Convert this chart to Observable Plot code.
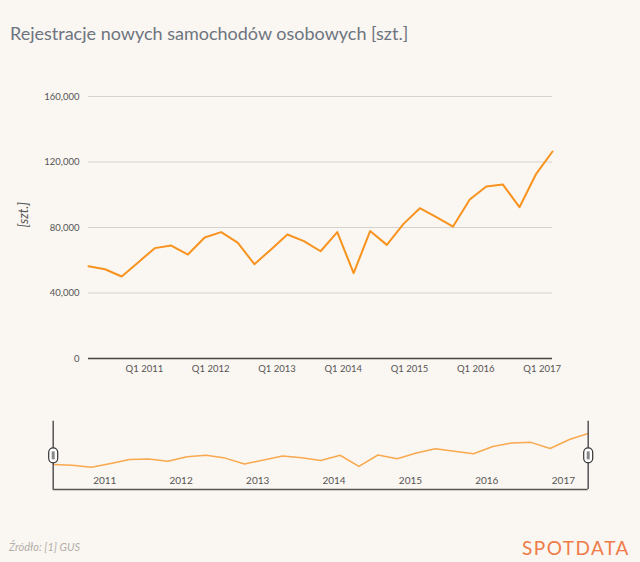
<!DOCTYPE html>
<html>
<head>
<meta charset="utf-8">
<script src="https://cdn.jsdelivr.net/npm/d3@7"></script>
<script src="https://cdn.jsdelivr.net/npm/@observablehq/plot@0.6"></script>
<style>
  body { margin: 0; background: #faf6f1; font-family: Lato, sans-serif; }
  #wrap { position: relative; width: 640px; height: 562px; overflow: hidden; }
  #wrap svg { display: block; }
  .title { position: absolute; left: 10px; top: 22px; font-size: 18px; color: #6d7480; }
  .source { position: absolute; left: 9px; top: 540px; font-size: 11px; font-style: italic; color: #b3aea9; }
  .logo { position: absolute; left: 522px; top: 536px; font-size: 19px; letter-spacing: 1.5px; color: #ef7c48; font-weight: 400; }
</style>
</head>
<body>
<div id="wrap">
  <div id="chart"></div>
  <div id="mini"></div>
  <div class="title">Rejestracje nowych samochodów osobowych [szt.]</div>
  <div class="source">Źródło: [1] GUS</div>
  <div class="logo">SPOTDATA</div>
</div>
<script>
// kwartaly (poczatek kwartalu)
var quarters = ["2010-04-01","2010-07-01","2010-10-01","2011-01-01","2011-04-01","2011-07-01","2011-10-01",
  "2012-01-01","2012-04-01","2012-07-01","2012-10-01","2013-01-01","2013-04-01","2013-07-01","2013-10-01",
  "2014-01-01","2014-04-01","2014-07-01","2014-10-01","2015-01-01","2015-04-01","2015-07-01","2015-10-01",
  "2016-01-01","2016-04-01","2016-07-01","2016-10-01","2017-01-01","2017-04-01"]
var registrations = [56400, 54500, 50100, 58800, 67400, 69000, 63500, 73900, 77200, 70800, 57600, 66600,
  75700, 71700, 65500, 77200, 52100, 77800, 69400, 82200, 91800, 86300, 80600, 97100, 105000, 106300,
  92400, 112800, 126400]
var yTicks = [0, 40000, 80000, 120000, 160000]
var years = [2011, 2012, 2013, 2014, 2015, 2016, 2017]

var data = quarters.map((q, i) => ({date: new Date(q + "T00:00:00"), value: registrations[i]}))
var yearTicks = years.map(y => new Date(y + "-01-01T00:00:00"))
var first = data[0].date, last = data[data.length - 1].date

var chart = Plot.plot({
  width: 640,
  height: 380,
  marginTop: 96,
  marginBottom: 22,
  marginLeft: 88,
  marginRight: 88,
  style: {fontFamily: "Lato, sans-serif", background: "transparent", color: "#555"},
  x: {type: "time", domain: [first, last]},
  y: {domain: [0, 160000]},
  marks: [
    Plot.gridY(yTicks.slice(1), {stroke: "#d6d3cf", strokeOpacity: 1}),
    Plot.axisY({ticks: yTicks, tickSize: 0, tickPadding: 9, tickFormat: d3.format(","), fontSize: 9.5, label: null}),
    Plot.axisX({ticks: yearTicks, tickSize: 0, tickPadding: 7, dx: 6, fontSize: 9.5,
      tickFormat: d => "Q1 " + d.getFullYear(), label: null}),
    Plot.text(["[szt.]"], {frameAnchor: "left", dx: -65, rotate: -90, fontStyle: "italic", fontSize: 13, fill: "#555"}),
    Plot.ruleY([0], {stroke: "#444", strokeWidth: 1.5}),
    Plot.line(data, {x: "date", y: "value", stroke: "#f7931e", strokeWidth: 2})
  ]
})
d3.select("#chart").append(() => chart)

// uchwyty suwaka
var handle = {draw(ctx) {
  ctx.moveTo(-4.5, -3); ctx.arc(0, -3, 4.5, Math.PI, 0)
  ctx.lineTo(4.5, 3); ctx.arc(0, 3, 4.5, 0, Math.PI); ctx.closePath()
}}
var grip = {draw(ctx) { ctx.rect(-1.5, -4, 3, 8) }}

var mini = Plot.plot({
  width: 640,
  height: 114,
  marginTop: 40.7,
  marginBottom: 5,
  marginLeft: 52.7,
  marginRight: 52.3,
  style: {fontFamily: "Lato, sans-serif", background: "transparent", color: "#555"},
  x: {type: "time", domain: [first, last], axis: null},
  y: {domain: [0, 154000], axis: null},
  marks: [
    Plot.line(data, {x: "date", y: "value", stroke: "#f9a94f", strokeWidth: 1.5}),
    Plot.text(yearTicks, {x: d => d, frameAnchor: "bottom", dy: -6, dx: -6, text: d => String(d.getFullYear()), fontSize: 10, fill: "#555"}),
    Plot.ruleY([0], {stroke: "#555", strokeWidth: 1.5}),
    Plot.ruleX([first, last], {stroke: "#555", strokeWidth: 1.5}),
    Plot.dot([first, last], {x: d => d, symbol: handle, r: 5, fill: "#fff", stroke: "#333", strokeWidth: 1.2}),
    Plot.dot([first, last], {x: d => d, symbol: grip, r: 3, fill: "#888", stroke: "none"})
  ]
})
d3.select("#mini").append(() => mini)
</script>
</body>
</html>
